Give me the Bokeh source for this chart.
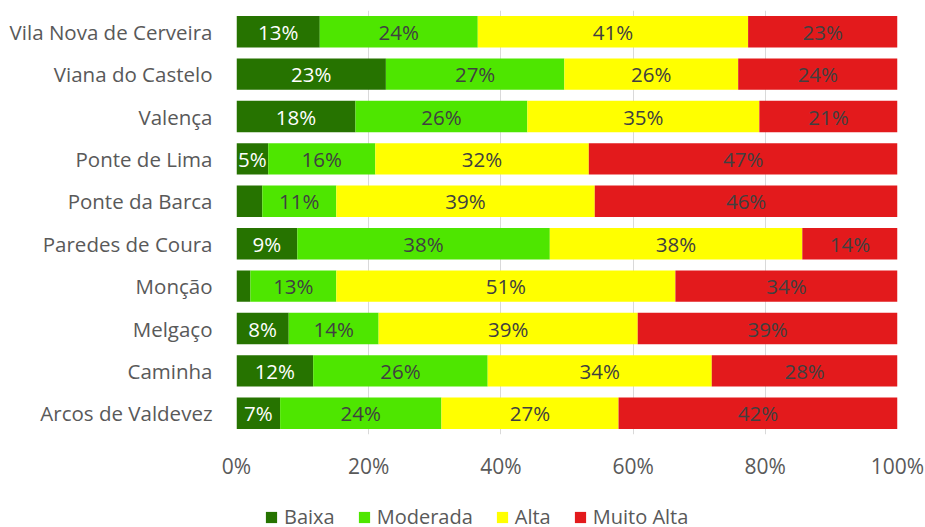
from bokeh.plotting import figure
from bokeh.layouts import column
from bokeh.models import ColumnDataSource, FactorRange, Range1d, LabelSet, Legend, LegendItem, PrintfTickFormatter, FixedTicker
from bokeh.core.properties import value
from bokeh.embed import file_html
from bokeh.resources import INLINE

# categories listed top to bottom
places = ["Vila Nova de Cerveira", "Viana do Castelo", "Valença", "Ponte de Lima",
          "Ponte da Barca", "Paredes de Coura", "Monção", "Melgaço", "Caminha",
          "Arcos de Valdevez"]
levels = ["Baixa", "Moderada", "Alta", "Muito Alta"]
baixa = [12.6, 22.6, 18.0, 4.8, 3.9, 9.2, 2.1, 7.9, 11.6, 6.6]
moderada = [23.9, 27.0, 26.0, 16.2, 11.2, 38.2, 13.0, 13.6, 26.4, 24.4]
alta = [40.9, 26.3, 35.1, 32.3, 39.1, 38.2, 51.3, 39.2, 33.9, 26.8]
muito_alta = [22.6, 24.1, 20.9, 46.7, 45.8, 14.4, 33.6, 39.3, 28.1, 42.2]
x_ticks = [0, 20, 40, 60, 80, 100]

colors = ["#267300", "#4ee600", "#ffff00", "#e31a1c"]
text_colors = ["#ffffff", "#404040", "#404040", "#404040"]
FONT = "Open Sans"

series = [baixa, moderada, alta, muito_alta]
data = {"place": places}
for name, vals in zip(levels, series):
    data[name] = vals
src = ColumnDataSource(data)

p = figure(width=925, height=492, y_range=FactorRange(factors=places[::-1], range_padding=0),
           x_range=Range1d(0, 100), output_backend="svg", toolbar_location=None,
           min_border_left=236, min_border_right=28, min_border_top=10, min_border_bottom=58)

renderers = p.hbar_stack(levels, y="place", height=0.74, color=colors, source=src,
                         line_color=None)

# data labels
left = [0.0] * len(places)
for name, vals, tc in zip(levels, series, text_colors):
    mids = [l + v / 2 for l, v in zip(left, vals)]
    labels = [f"{v:.0f}%" if round(v) >= 5 else "" for v in vals]
    lsrc = ColumnDataSource(dict(x=mids, y=places, t=labels))
    p.add_layout(LabelSet(x="x", y="y", text="t", source=lsrc, text_align="center",
                          text_baseline="middle", text_color=tc, text_font=value(FONT),
                          text_font_size="20.5px", y_offset=0))
    left = [l + v for l, v in zip(left, vals)]

p.xaxis.ticker = FixedTicker(ticks=x_ticks)
p.xaxis.formatter = PrintfTickFormatter(format="%d%%")
p.xaxis.axis_line_color = None
p.xaxis.major_tick_line_color = None
p.xaxis.minor_tick_line_color = None
p.xaxis.major_label_standoff = 11
p.xaxis.major_label_text_font = FONT
p.xaxis.major_label_text_font_size = "21px"
p.xaxis.major_label_text_color = "#595959"

p.yaxis.axis_line_color = None
p.yaxis.major_tick_line_color = None
p.yaxis.minor_tick_line_color = None
p.yaxis.major_label_standoff = 18
p.yaxis.major_label_text_font = FONT
p.yaxis.major_label_text_font_size = "20.5px"
p.yaxis.major_label_text_color = "#595959"

p.xgrid.grid_line_color = "#d9d9d9"
p.xgrid.grid_line_width = 1
p.ygrid.grid_line_color = None
p.outline_line_color = None

# legend strip below the chart (legend keys use off-screen stand-in renderers)
p2 = figure(width=925, height=35, output_backend="svg", toolbar_location=None,
            x_range=Range1d(0, 1), y_range=Range1d(0, 1),
            x_axis_location=None, y_axis_location=None,
            min_border_left=0, min_border_right=0, min_border_top=0, min_border_bottom=0)
p2.grid.grid_line_color = None
p2.outline_line_color = None
keysrc = ColumnDataSource(dict(x=[-10.0], y=[-10.0]))
items = []
for name, c in zip(levels, colors):
    r = p2.rect(x="x", y="y", width=0.1, height=0.1, fill_color=c, line_color=None,
                source=keysrc)
    items.append(LegendItem(label=name, renderers=[r], index=0))
legend = Legend(items=items, orientation="horizontal", location=(28, -3),
                label_text_font=FONT, label_text_font_size="20px", label_text_color="#595959",
                glyph_width=14, glyph_height=14, label_standoff=6, spacing=22,
                padding=0, margin=0, border_line_color=None,
                background_fill_alpha=0)
p2.add_layout(legend)

open("out.html", "w").write(file_html(column(p, p2, spacing=0), INLINE))
